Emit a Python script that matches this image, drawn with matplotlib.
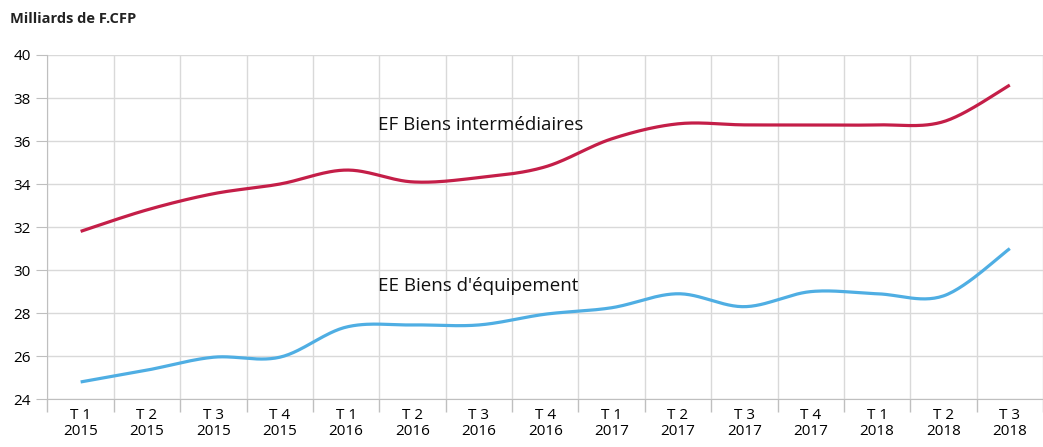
import numpy as np
import matplotlib.pyplot as plt

quarters = ["T 1", "T 2", "T 3", "T 4", "T 1", "T 2", "T 3", "T 4",
            "T 1", "T 2", "T 3", "T 4", "T 1", "T 2", "T 3"]
years = ["2015"] * 4 + ["2016"] * 4 + ["2017"] * 4 + ["2018"] * 3
ef_interm = [31.8, 32.8, 33.55, 34.0, 34.65, 34.1, 34.3, 34.8,
             36.1, 36.8, 36.75, 36.75, 36.75, 36.9, 38.6]
ee_equip = [24.8, 25.35, 25.95, 25.95, 27.35, 27.45, 27.45, 27.95,
            28.25, 28.9, 28.3, 29.0, 28.9, 28.8, 31.0]


def smooth(x, y, n=30):
    # Catmull-Rom style bezier smoothing, like spreadsheet "smoothed lines"
    x = np.asarray(x, float)
    y = np.asarray(y, float)
    xs, ys = [], []
    for i in range(len(x) - 1):
        p0 = np.array([x[max(i - 1, 0)], y[max(i - 1, 0)]])
        p1 = np.array([x[i], y[i]])
        p2 = np.array([x[i + 1], y[i + 1]])
        p3 = np.array([x[min(i + 2, len(x) - 1)], y[min(i + 2, len(x) - 1)]])
        c1 = p1 + (p2 - p0) / 6
        c2 = p2 - (p3 - p1) / 6
        t = np.linspace(0, 1, n)[:, None]
        pts = ((1 - t) ** 3) * p1 + 3 * ((1 - t) ** 2) * t * c1 \
            + 3 * (1 - t) * t ** 2 * c2 + t ** 3 * p2
        xs.extend(pts[:, 0])
        ys.extend(pts[:, 1])
    return np.array(xs), np.array(ys)


plt.rcParams['font.family'] = ['Open Sans', 'DejaVu Sans']

fig = plt.figure(figsize=(10.43, 4.47), dpi=100)
ax = fig.add_axes([0.0455, 0.107, 0.9545, 0.77])

x = np.arange(len(quarters))
sx, sy = smooth(x, ef_interm)
ax.plot(sx, sy, color="#C41E48", lw=2.3, solid_capstyle="butt")
sx, sy = smooth(x, ee_equip)
ax.plot(sx, sy, color="#4FAEE3", lw=2.3, solid_capstyle="butt")

ax.set_xlim(-0.5, 14.37)
ax.set_ylim(24, 40)
ax.set_yticks(np.arange(24, 41, 2))
ax.set_xticks(x)
ax.set_xticklabels([q + "\n" + yr for q, yr in zip(quarters, years)],
                   fontsize=11, linespacing=1.1)
ax.set_xticks(np.arange(-0.5, 15, 1), minor=True)
ax.tick_params(axis="x", which="major", length=0, pad=6)
ax.tick_params(axis="x", which="minor", length=9, color="#bfbfbf", width=1)
ax.tick_params(axis="y", length=8, color="#bfbfbf", labelsize=11, pad=4)

ax.grid(axis="y", color="#d9d9d9", lw=1)
ax.grid(axis="x", which="minor", color="#d9d9d9", lw=1)
for s in ["top", "right"]:
    ax.spines[s].set_visible(False)
for s in ["left", "bottom"]:
    ax.spines[s].set_color("#bfbfbf")

ax.text(4.48, 36.5, "EF Biens intermédiaires", fontsize=13.5, color="#111111",
        va="baseline")
ax.text(4.48, 29.02, "EE Biens d'équipement", fontsize=13.5, color="#111111",
        va="baseline")
fig.text(0.01, 0.957, "Milliards de F.CFP", fontsize=10.5, fontweight="bold",
         color="#222222", va="center")

fig.savefig("out.png", dpi=100)
